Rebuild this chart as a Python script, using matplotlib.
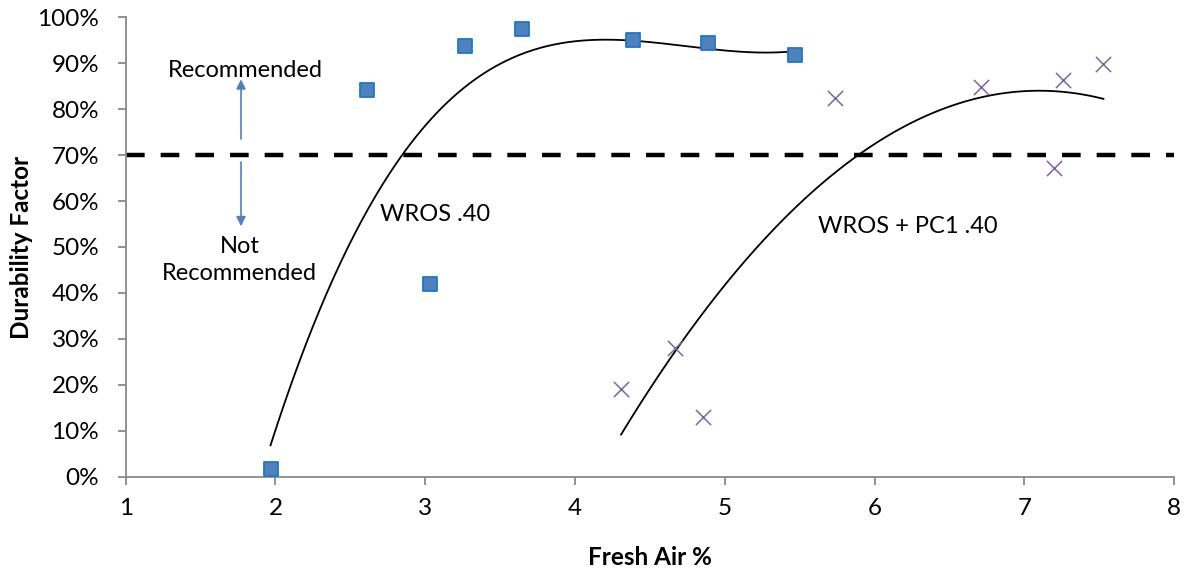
import numpy as np
import matplotlib
matplotlib.use("Agg")
import matplotlib.pyplot as plt
from matplotlib.ticker import PercentFormatter

# Data
wros_x = [1.967, 2.613, 3.03, 3.267, 3.647, 4.387, 4.887, 5.467]
wros_y = [1.7, 84.1, 42.0, 93.7, 97.4, 95.0, 94.3, 91.7]
pc1_x = [4.307, 4.667, 4.853, 5.733, 6.713, 7.2, 7.26, 7.527]
pc1_y = [19.1, 28.0, 13.0, 82.4, 84.8, 67.2, 86.3, 89.8]
threshold = 70
x_ticks = [1, 2, 3, 4, 5, 6, 7, 8]
y_ticks = [0, 10, 20, 30, 40, 50, 60, 70, 80, 90, 100]

plt.rcParams['font.family'] = ['Lato', 'DejaVu Sans']

fig = plt.figure(figsize=(11.9, 5.75), dpi=100)
ax = fig.add_axes([0.1056, 0.171, 0.8812, 0.799])

ax.set_xlim(1, 8)
ax.set_ylim(0, 100)

# threshold line
ax.axhline(threshold, color='black', lw=3.2, ls=(0, (4.2, 3.6)), zorder=1)

# trendlines
def trend(x, y, deg):
    c = np.polyfit(x, y, deg)
    xs = np.linspace(min(x), max(x), 300)
    return xs, np.polyval(c, xs)

tx, ty = trend(wros_x, wros_y, 3)
ax.plot(tx, ty, color='black', lw=1.3, zorder=2)
tx2, ty2 = trend(pc1_x, pc1_y, 2)
ax.plot(tx2, ty2, color='black', lw=1.3, zorder=2)

ax.scatter(wros_x, wros_y, marker='s', s=110, facecolor='#4F81BD',
           edgecolor='#1F77C8', linewidths=1.3, zorder=3)
ax.scatter(pc1_x, pc1_y, marker='x', s=120, color='#8064A2',
           linewidths=1.1, zorder=3)

# annotations
fs_ann = 17
ax.text(1.80, 88.5, 'Recommended', ha='center', va='center', fontsize=fs_ann)
ax.text(1.76, 47.2, 'Not\nRecommended', ha='center', va='center', fontsize=fs_ann,
        linespacing=1.35)
ax.annotate('', xy=(1.77, 86.5), xytext=(1.77, 73.5),
            arrowprops=dict(arrowstyle='-|>', color='#4F81BD', lw=1.2,
                            mutation_scale=14, shrinkA=0, shrinkB=0))
ax.annotate('', xy=(1.77, 54.5), xytext=(1.77, 68.5),
            arrowprops=dict(arrowstyle='-|>', color='#4F81BD', lw=1.2,
                            mutation_scale=14, shrinkA=0, shrinkB=0))
ax.text(3.065, 57.0, 'WROS .40', ha='center', va='center', fontsize=fs_ann)
ax.text(6.22, 54.4, 'WROS + PC1 .40', ha='center', va='center', fontsize=fs_ann)

# axes styling
ax.set_xticks(x_ticks)
ax.set_yticks(y_ticks)
ax.yaxis.set_major_formatter(PercentFormatter(decimals=0))
for s in ['top', 'right']:
    ax.spines[s].set_visible(False)
for s in ['left', 'bottom']:
    ax.spines[s].set_color('#898989')
    ax.spines[s].set_linewidth(1.3)
ax.tick_params(axis='both', colors='#898989', length=6, width=1.3,
               labelsize=17.5, labelcolor='black')
ax.tick_params(axis='y', pad=13)
ax.tick_params(axis='x', pad=9)

ax.set_xlabel('Fresh Air %', fontsize=17.5, fontweight='bold', labelpad=20)
ax.set_ylabel('Durability Factor', fontsize=17.5, fontweight='bold', labelpad=3)

fig.savefig('out.png', dpi=100)
